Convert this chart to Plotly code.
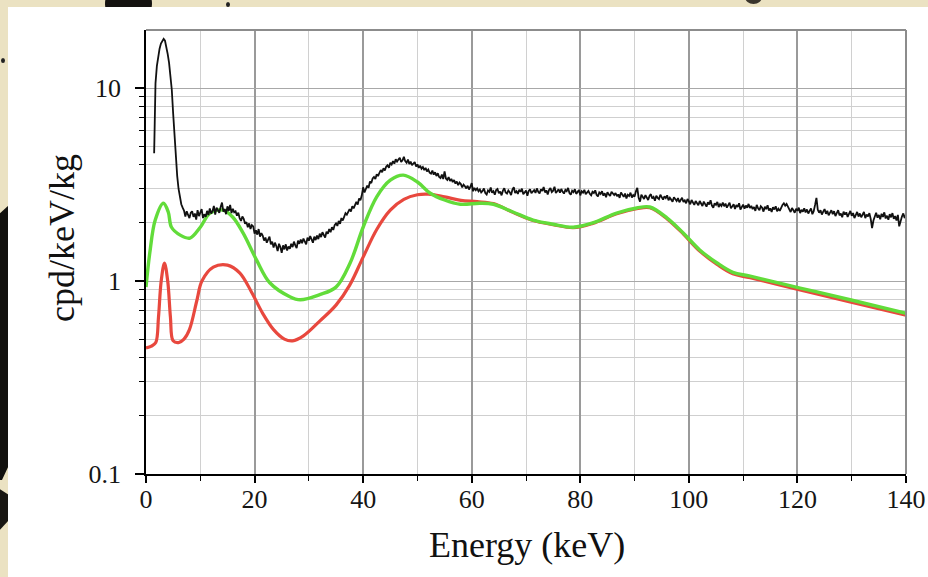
import numpy as np
import plotly.graph_objects as go

# Measured spectrum: channels every 0.25 keV from 1.5 to 140 keV (cpd/keV/kg)
measured_energy = np.arange(1.5, 140.001, 0.25)
measured_rate = [
    4.6, 10.6, 13.0, 15.0, 16.0, 17.0, 17.6, 18.0, 17.6, 16.5,
    15.0, 13.5, 11.8, 9.8, 7.4, 5.5, 4.3, 3.5, 3.0, 2.7,
    2.50, 2.40, 2.32, 2.16, 2.30, 2.20, 2.12, 2.26, 2.30, 2.15,
    2.24, 2.08, 2.33, 2.17, 2.27, 2.36, 2.12, 2.22, 2.15, 2.31,
    2.20, 2.38, 2.24, 2.30, 2.45, 2.21, 2.40, 2.33, 2.26, 2.42,
    2.55, 2.29, 2.36, 2.22, 2.44, 2.31, 2.48, 2.25, 2.37, 2.27,
    2.30, 2.18, 2.26, 2.12, 2.05, 2.16, 2.10, 1.98, 2.02, 1.90,
    1.99, 1.86, 1.95, 1.92, 1.76, 1.83, 1.74, 1.86, 1.70, 1.77,
    1.72, 1.62, 1.68, 1.58, 1.64, 1.70, 1.55, 1.60, 1.49, 1.58,
    1.52, 1.43, 1.56, 1.50, 1.40, 1.53, 1.46, 1.55, 1.44, 1.51,
    1.47, 1.56, 1.50, 1.60, 1.53, 1.48, 1.62, 1.56, 1.64, 1.57,
    1.66, 1.60, 1.55, 1.68, 1.62, 1.71, 1.64, 1.58, 1.70, 1.63,
    1.72, 1.65, 1.76, 1.69, 1.79, 1.73, 1.68, 1.80, 1.76, 1.86,
    1.79, 1.90, 1.84, 1.95, 1.99, 1.93, 2.05, 1.98, 2.12, 2.06,
    2.16, 2.25, 2.21, 2.30, 2.36, 2.29, 2.44, 2.38, 2.50, 2.57,
    2.49, 2.68, 2.62, 2.78, 3.06, 2.88, 3.00, 3.12, 3.04, 3.28,
    3.22, 3.40, 3.46, 3.38, 3.58, 3.50, 3.64, 3.76, 3.66, 3.84,
    3.74, 3.92, 3.98, 3.86, 4.10, 4.02, 4.18, 4.06, 4.28, 4.16,
    4.26, 4.36, 4.14, 4.22, 4.40, 4.18, 4.10, 4.26, 4.04, 4.16,
    3.98, 4.08, 4.14, 3.92, 4.02, 3.86, 3.96, 3.82, 3.90, 3.76,
    3.86, 3.70, 3.78, 3.64, 3.60, 3.74, 3.56, 3.66, 3.50, 3.62,
    3.46, 3.42, 3.56, 3.38, 3.70, 3.40, 3.34, 3.46, 3.30, 3.38,
    3.26, 3.34, 3.20, 3.28, 3.14, 3.24, 3.18, 3.06, 3.16, 3.10,
    3.02, 3.12, 2.98, 3.08, 3.22, 2.92, 3.04, 2.96, 3.02, 2.92,
    2.98, 2.88, 2.93, 3.02, 2.86, 2.81, 2.95, 2.90, 3.05, 2.87,
    2.92, 2.80, 2.96, 3.00, 2.85, 2.91, 2.78, 2.94, 3.03, 2.88,
    2.84, 2.95, 2.89, 2.79, 2.98, 3.06, 2.86, 2.92, 2.83, 2.97,
    2.90, 3.01, 2.82, 2.88, 2.95, 2.77, 2.93, 2.99, 2.85, 2.91,
    2.96, 2.86, 3.02, 2.90, 2.84, 2.99, 2.93, 3.07, 2.88, 2.95,
    2.81, 2.97, 3.03, 2.89, 2.94, 3.08, 2.86, 2.92, 2.99, 2.87,
    3.00, 2.90, 2.84, 2.97, 2.92, 3.04, 2.86, 2.80, 2.94, 2.89,
    2.99, 2.83, 2.90, 2.96, 2.78, 2.92, 2.87, 2.97, 2.82, 2.89,
    2.93, 2.83, 2.78, 2.90, 2.86, 2.95, 2.80, 2.74, 2.88, 2.83,
    2.92, 2.77, 2.85, 2.72, 2.89, 2.81, 2.76, 2.90, 2.84, 2.79,
    2.86, 2.75, 2.81, 2.70, 2.88, 2.78, 2.73, 2.84, 2.68, 2.80,
    2.76, 2.87, 2.71, 2.79, 2.74, 2.92, 3.04, 2.70, 2.58, 2.80,
    2.74, 2.66, 2.79, 2.71, 2.63, 2.76, 2.82, 2.68, 2.73, 2.61,
    2.77, 2.70, 2.66, 2.80, 2.72, 2.64, 2.75, 2.69, 2.78, 2.62,
    2.70, 2.64, 2.58, 2.72, 2.66, 2.60, 2.69, 2.56, 2.63, 2.70,
    2.57, 2.62, 2.53, 2.66, 2.59, 2.50, 2.63, 2.56, 2.48, 2.60,
    2.55, 2.47, 2.60, 2.52, 2.45, 2.58, 2.50, 2.43, 2.56, 2.49,
    2.62, 2.46, 2.40, 2.53, 2.48, 2.57, 2.42, 2.50, 2.45, 2.55,
    2.44, 2.52, 2.40, 2.47, 2.55, 2.38, 2.45, 2.50, 2.36, 2.48,
    2.42, 2.53, 2.35, 2.44, 2.49, 2.37, 2.46, 2.40, 2.51, 2.39,
    2.45, 2.36, 2.42, 2.31, 2.48, 2.38, 2.33, 2.44, 2.40, 2.29,
    2.43, 2.36, 2.47, 2.32, 2.38, 2.28, 2.41, 2.35, 2.44, 2.30,
    2.37, 2.31, 2.42, 2.48, 2.53, 2.46, 2.51, 2.40, 2.35, 2.28,
    2.39, 2.33, 2.26, 2.37, 2.31, 2.40, 2.25, 2.34, 2.29, 2.38,
    2.27, 2.35, 2.24, 2.31, 2.38, 2.22, 2.30, 2.48, 2.70, 2.34,
    2.26, 2.33, 2.21, 2.29, 2.36, 2.23, 2.31, 2.19, 2.27, 2.33,
    2.22, 2.30, 2.17, 2.26, 2.33, 2.19, 2.24, 2.14, 2.29, 2.21,
    2.27, 2.15, 2.23, 2.31, 2.18, 2.25, 2.12, 2.22, 2.28, 2.16,
    2.24, 2.14, 2.20, 2.28, 2.12, 2.21, 2.16, 2.25, 2.10, 1.88,
    2.06, 2.19, 2.26, 2.13, 2.20, 2.09, 2.23, 2.15, 2.27, 2.11,
    2.18, 2.08, 2.22, 2.14, 2.25, 2.10, 2.17, 2.06, 2.20, 1.92,
    2.08, 2.16, 2.24, 2.12, 2.20,
]

# Simulated components (smooth curves)
green_energy = [0, 0.7, 1.7, 3.2, 4.1, 4.7, 6.3, 8.1, 10, 11.8, 14.2, 16, 17.9,
                20.4, 22.8, 26.5, 28.4, 32, 35, 37.6, 40, 42.5, 45, 47.4, 50,
                52.3, 55, 57.9, 61.5, 64, 67.6, 71.3, 75, 78.7, 82.3, 86.7,
                90.4, 92.8, 96, 99, 102, 105.2, 108.1, 111.3, 120.5, 129.7, 140]
green_rate = [0.93, 1.4, 2.07, 2.53, 2.28, 1.9, 1.73, 1.67, 1.9, 2.25, 2.33, 2.14,
              1.77, 1.28, 0.98, 0.83, 0.80, 0.85, 0.93, 1.24, 1.9, 2.73, 3.33,
              3.54, 3.26, 2.86, 2.63, 2.5, 2.53, 2.5, 2.28, 2.07, 1.97, 1.9,
              2.0, 2.25, 2.39, 2.42, 2.12, 1.77, 1.45, 1.24, 1.11, 1.06, 0.92,
              0.80, 0.68]

red_energy = [0, 1, 1.8, 2.3, 2.8, 3.4, 4.0, 4.5, 5.0, 6, 7, 8, 9.4, 10.3, 12.4,
              15, 17.3, 19.5, 21.5, 23.5, 25.5, 27, 29, 32, 35, 37.5, 40, 42.5,
              45, 47.5, 50, 52, 55, 58, 61, 64, 67.6, 71.3, 75, 78.7, 82.3,
              86.7, 90.4, 92.8, 96, 99, 102, 105.2, 108.1, 111.3, 120.5,
              129.7, 140]
red_rate = [0.45, 0.46, 0.48, 0.65, 1.0, 1.24, 1.0, 0.65, 0.49, 0.48, 0.50, 0.56,
            0.8, 1.0, 1.18, 1.21, 1.1, 0.87, 0.68, 0.56, 0.50, 0.49, 0.52, 0.62,
            0.75, 0.95, 1.33, 1.85, 2.33, 2.65, 2.8, 2.82, 2.73, 2.62, 2.58,
            2.52, 2.27, 2.06, 1.96, 1.89, 1.99, 2.23, 2.37, 2.4, 2.1, 1.75,
            1.43, 1.22, 1.09, 1.04, 0.90, 0.78, 0.665]

x_ticks = [0, 20, 40, 60, 80, 100, 120, 140]
y_ticks = [0.1, 1, 10]
y_tick_text = ["0.1", "1", "10"]
y_minor = [0.2, 0.3, 0.4, 0.5, 0.6, 0.7, 0.8, 0.9, 2, 3, 4, 5, 6, 7, 8, 9]

W, H = 928, 577
ML, MR, MT, MB = 146, 22, 30, 103
PW, PH = W - ML - MR, H - MT - MB


def px(x):
    return (x - ML) / PW


def py(y):
    return (H - MB - y) / PH


serif = "Liberation Serif, Times New Roman, serif"

fig = go.Figure()
fig.add_trace(go.Scatter(x=red_energy, y=red_rate, mode="lines",
                         line=dict(color="#e8483e", width=3.2, shape="spline"),
                         showlegend=False))
fig.add_trace(go.Scatter(x=green_energy, y=green_rate, mode="lines",
                         line=dict(color="#62dc3a", width=3.4, shape="spline"),
                         showlegend=False))
fig.add_trace(go.Scatter(x=measured_energy, y=measured_rate, mode="lines",
                         line=dict(color="#111111", width=1.8),
                         showlegend=False))

shapes = [
    # dark specks on the surrounding backdrop
    dict(type="circle", xref="paper", yref="paper", layer="below",
         x0=px(105), x1=px(152), y0=py(28), y1=py(-20),
         fillcolor="#141210", line=dict(width=0)),
    dict(type="circle", xref="paper", yref="paper", layer="below",
         x0=px(745), x1=px(762), y0=py(4), y1=py(-10),
         fillcolor="#3a352c", line=dict(width=0)),
    dict(type="circle", xref="paper", yref="paper", layer="below",
         x0=px(226), x1=px(230), y0=py(7), y1=py(2),
         fillcolor="#222", line=dict(width=0)),
    dict(type="circle", xref="paper", yref="paper", layer="below",
         x0=px(1), x1=px(5), y0=py(63), y1=py(58),
         fillcolor="#222", line=dict(width=0)),
    dict(type="path", xref="paper", yref="paper", layer="below",
         path=("M {a},{b} L {c},{d} L {c},{e} L {f},{g} L {a},{g} Z").format(
             a=px(-2), b=py(215), c=px(9), d=py(205), e=py(465),
             f=px(2), g=py(480)),
         fillcolor="#12110e", line=dict(width=0)),
    dict(type="path", xref="paper", yref="paper", layer="below",
         path=("M {a},{b} L {c},{d} L {c},{e} L {a},{f} Z").format(
             a=px(-2), b=py(488), c=px(9), d=py(495), e=py(520), f=py(532)),
         fillcolor="#181612", line=dict(width=0)),
    # white slide panel
    dict(type="rect", xref="paper", yref="paper", layer="below",
         x0=px(8), x1=px(935), y0=py(585), y1=py(7),
         fillcolor="white", line=dict(width=0)),
    # grey frame on top and right
    dict(type="line", xref="paper", yref="paper", layer="above",
         x0=0, x1=1, y0=1, y1=1, line=dict(color="#8c8c8c", width=2)),
    dict(type="line", xref="paper", yref="paper", layer="above",
         x0=1, x1=1, y0=0, y1=1, line=dict(color="#8c8c8c", width=2)),
]

fig.update_layout(
    width=W, height=H, autosize=False,
    margin=dict(l=ML, r=MR, t=MT, b=MB, autoexpand=False),
    paper_bgcolor="#ebe2c2", plot_bgcolor="white",
    shapes=shapes,
    font=dict(family=serif, color="#151515"),
    annotations=[
        dict(text="cpd/keV/kg", xref="paper", yref="paper",
             x=px(62), y=py(238), xanchor="center", yanchor="middle",
             textangle=-90, showarrow=False,
             font=dict(family=serif, size=36, color="#111")),
        dict(text="Energy (keV)", xref="paper", yref="paper",
             x=px(527), y=py(545), xanchor="center", yanchor="middle",
             showarrow=False,
             font=dict(family=serif, size=36, color="#111")),
    ],
)

fig.update_xaxes(
    range=[0, 140], tickvals=x_ticks, ticks="outside", ticklen=7,
    tickwidth=1.5, tickcolor="black", showline=True, linecolor="black",
    linewidth=1.5, showgrid=True, gridcolor="#9a9a9a", gridwidth=1.5,
    zeroline=False, automargin=False,
    tickfont=dict(family=serif, size=26, color="#151515"),
    ticklabelstandoff=-6,
    minor=dict(dtick=10, tick0=0, ticks="outside", ticklen=5, tickwidth=1.2,
               tickcolor="black", showgrid=True, gridcolor="#d0d0d0",
               gridwidth=1),
)
fig.update_yaxes(
    type="log", range=[-1, np.log10(20)], tickvals=y_ticks,
    ticktext=y_tick_text, ticks="outside", ticklen=9, tickwidth=1.5,
    tickcolor="black", showline=True, linecolor="black", linewidth=1.5,
    showgrid=True, gridcolor="#a8a8a8", gridwidth=1.2, zeroline=False,
    automargin=False,
    tickfont=dict(family=serif, size=26, color="#151515"),
    ticklabelstandoff=9,
    minor=dict(tickmode="array", tickvals=y_minor, ticks="outside",
               ticklen=5, tickwidth=1.2, tickcolor="black", showgrid=True,
               gridcolor="#cfcfcf", gridwidth=1),
)

fig.write_html("out.html")
